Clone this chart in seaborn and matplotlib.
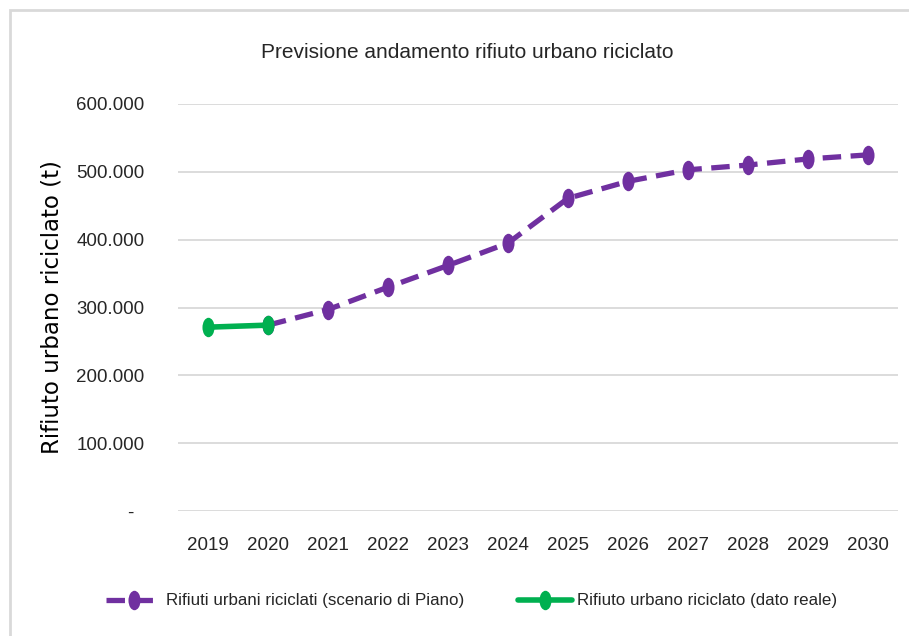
import matplotlib
matplotlib.use("Agg")
import matplotlib.pyplot as plt
from matplotlib.patches import Rectangle
from matplotlib.path import Path
from matplotlib.transforms import Affine2D
from matplotlib.ticker import FuncFormatter, FixedLocator
import seaborn as sns
import pandas as pd

# Data (tonnes)
years_scenario = [2020, 2021, 2022, 2023, 2024, 2025, 2026, 2027, 2028, 2029, 2030]
values_scenario = [274000, 297000, 330000, 362000, 395000, 461000, 486000, 503000, 510000, 519000, 525000]
years_real = [2019, 2020]
values_real = [271000, 274000]

label_scenario = "Rifiuti urbani riciclati (scenario di Piano)"
label_real = "Rifiuto urbano riciclato (dato reale)"
title = "Previsione andamento rifiuto urbano riciclato"
ylabel = "Rifiuto urbano riciclato (t)"
xticks = list(range(2019, 2031))
yticks = [0, 100000, 200000, 300000, 400000, 500000, 600000]

PURPLE = "#7030A0"
GREEN = "#00B050"
GRID = "#D9D9D9"
TEXT = "#262626"

sns.set_theme(style="white")
plt.rcParams["font.family"] = ["Liberation Sans", "DejaVu Sans"]

df_s = pd.DataFrame({"anno": years_scenario, "t": values_scenario})
df_r = pd.DataFrame({"anno": years_real, "t": values_real})

# tall ellipse marker
ellipse = Path.unit_circle().transformed(Affine2D().scale(0.62, 1.0))

fig = plt.figure(figsize=(9.09, 6.36), dpi=100)
ax = fig.add_axes([178 / 909, 1 - 511 / 636, 720 / 909, 407 / 636])

sns.lineplot(data=df_s, x="anno", y="t", ax=ax, color=PURPLE, linewidth=3.8,
             linestyle=(0, (3.5, 1.8)), marker=ellipse, markersize=14,
             markeredgewidth=0, label=label_scenario, zorder=3)
sns.lineplot(data=df_r, x="anno", y="t", ax=ax, color=GREEN, linewidth=4.0,
             marker=ellipse, markersize=14, markeredgewidth=0,
             label=label_real, zorder=4)

ax.set_xlim(2018.5, 2030.5)
ax.set_ylim(0, 600000)
ax.xaxis.set_major_locator(FixedLocator(xticks))
ax.yaxis.set_major_locator(FixedLocator(yticks))
ax.yaxis.set_major_formatter(FuncFormatter(
    lambda v, p: "-  " if v == 0 else f"{int(v):,}".replace(",", ".")))
ax.grid(axis="y", color=GRID, linewidth=1.3)
ax.grid(axis="x", visible=False)
for s in ax.spines.values():
    s.set_visible(False)
ax.tick_params(axis="both", length=0, labelsize=13.5, labelcolor=TEXT)
ax.tick_params(axis="y", pad=24)
ax.tick_params(axis="x", pad=19)

ax.set_xlabel("")
ax.set_ylabel(ylabel, fontsize=16.5, color="black", family=["DejaVu Sans"])
ax.yaxis.set_label_coords((64 - 178) / 720, 0.5)

fig.text(467 / 909, 1 - 53 / 636, title, ha="center", va="center",
         fontsize=15, color=TEXT)

ax.get_legend().remove()
handles, labels = ax.get_legend_handles_labels()
fig.legend(handles, labels, loc="center", bbox_to_anchor=(472 / 909, 1 - 601 / 636),
           ncol=2, frameon=False, fontsize=12.2, handlelength=3.2,
           handletextpad=0.3, columnspacing=3.2, labelcolor=TEXT)

fig.add_artist(Rectangle((10 / 909, -0.2), 1.5, 1.2 - 10 / 636,
                         transform=fig.transFigure, fill=False,
                         edgecolor=GRID, linewidth=2))

fig.savefig("out.png", dpi=100)
